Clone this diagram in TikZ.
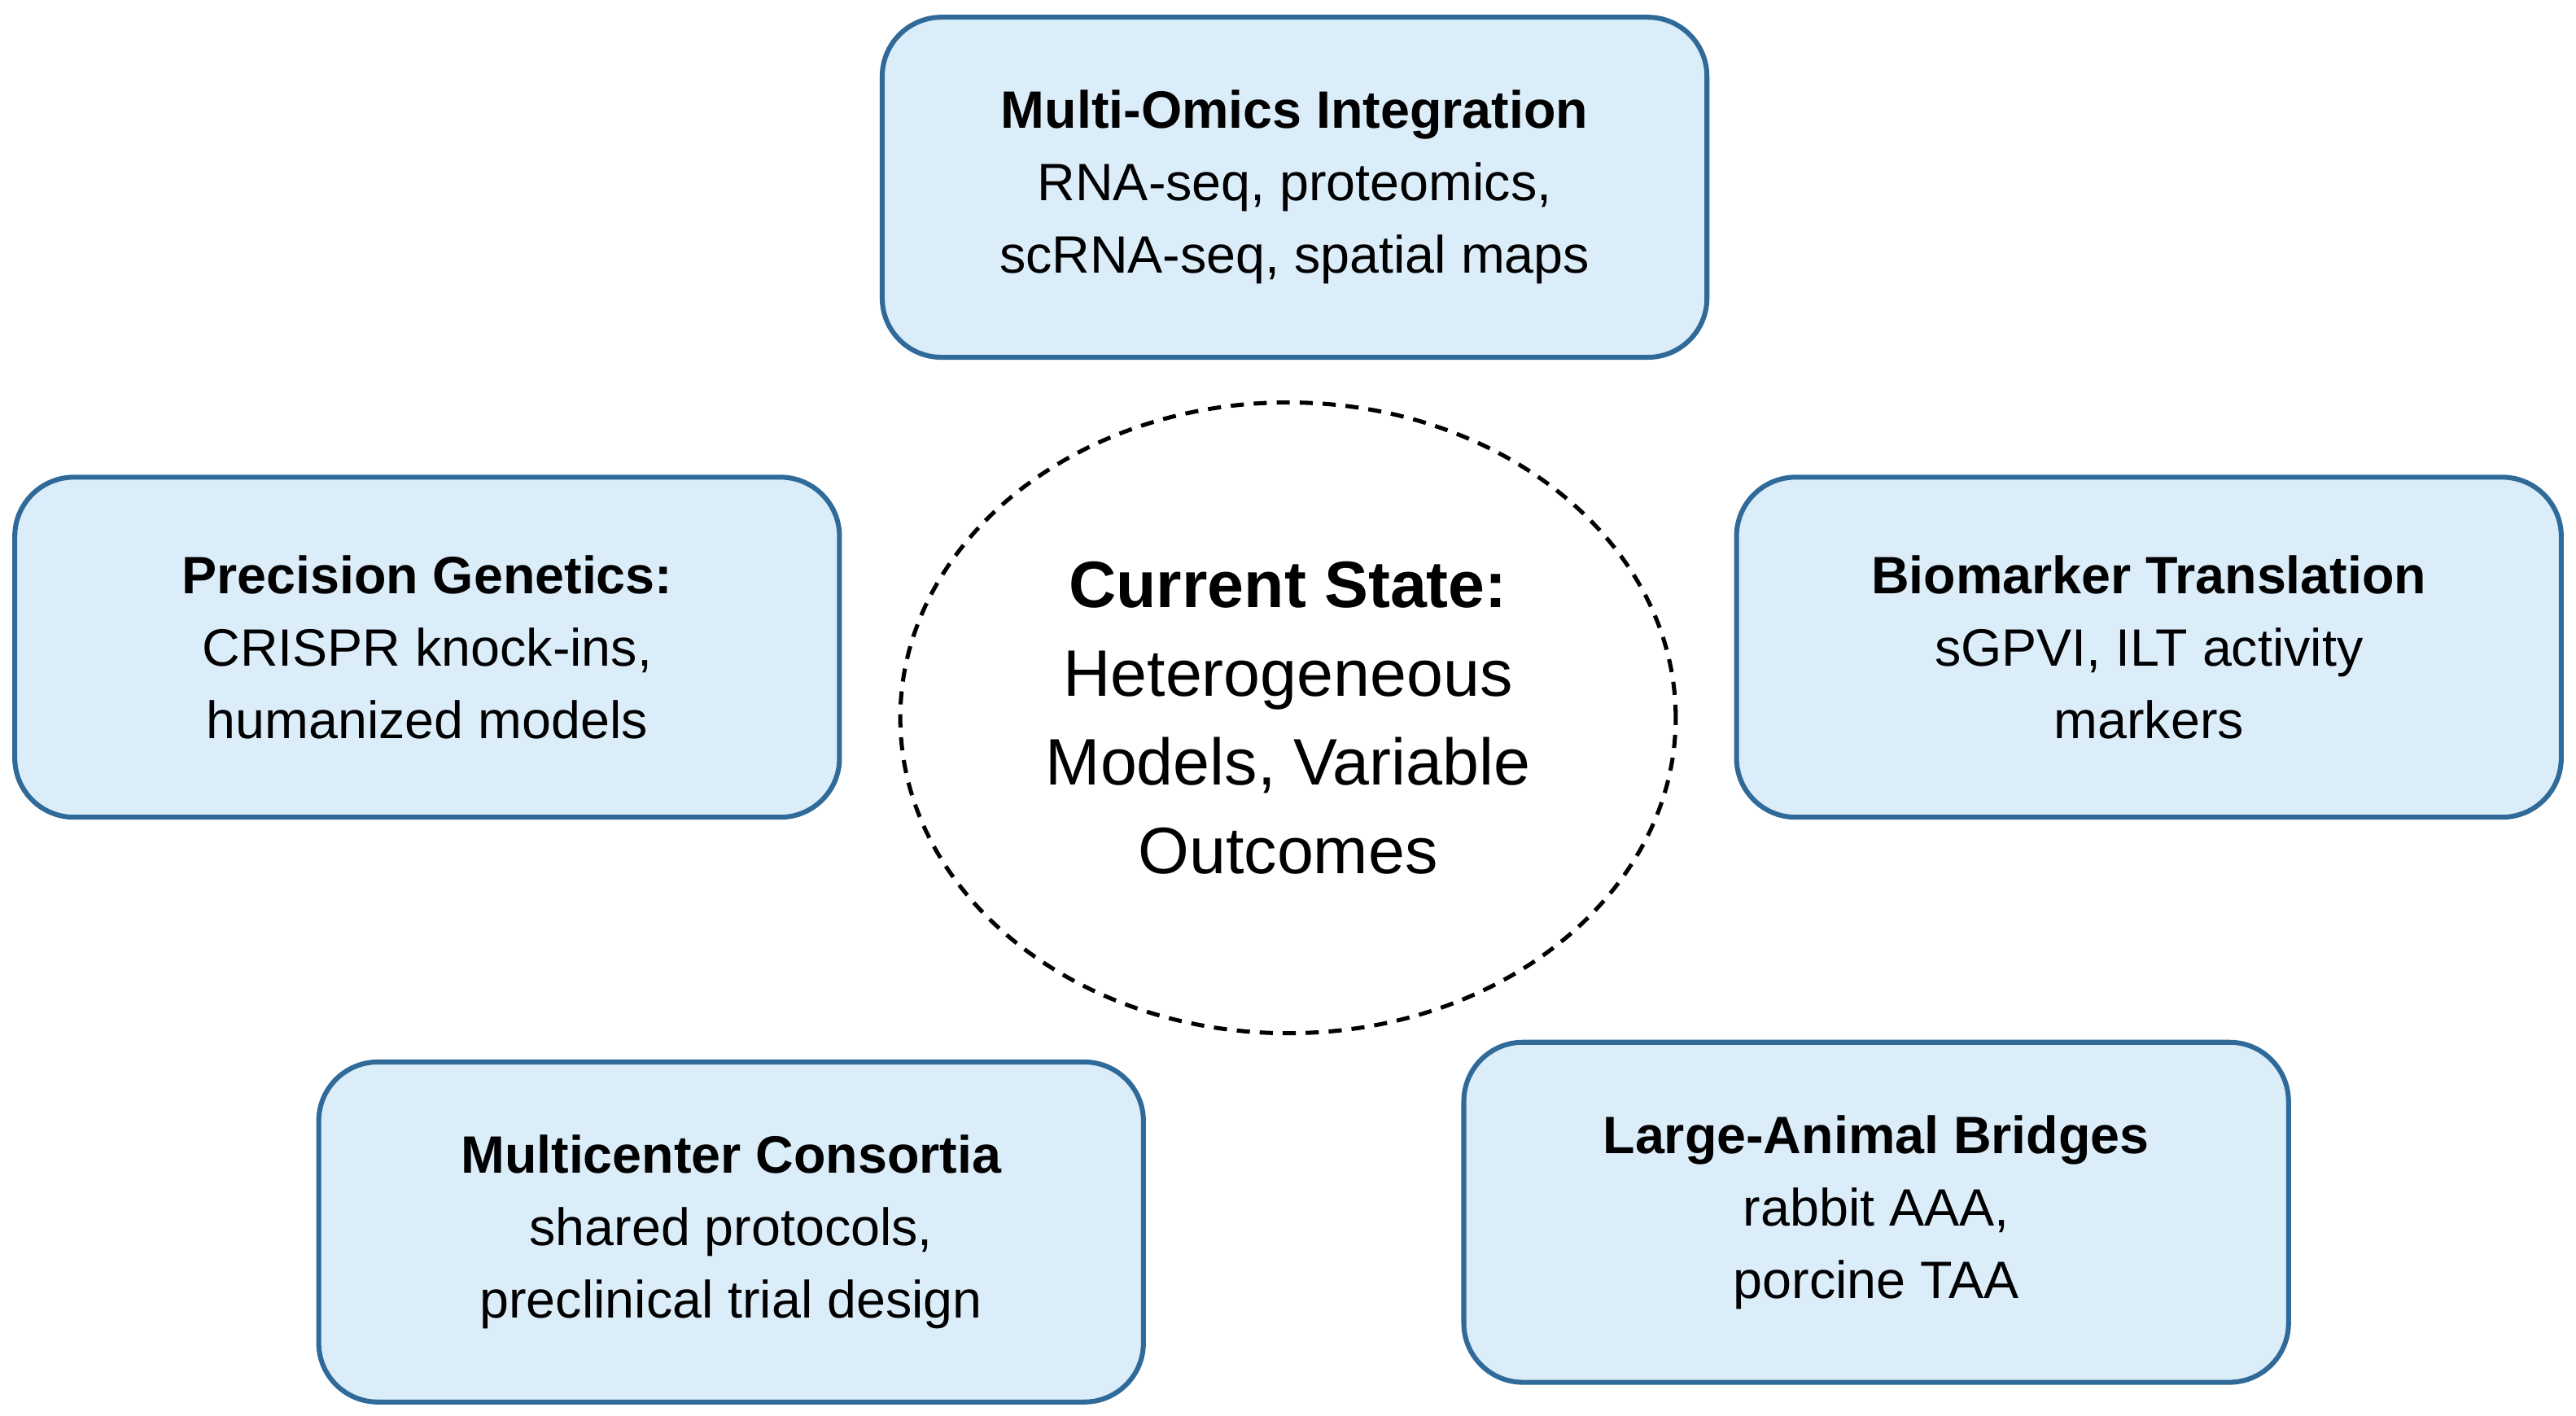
\documentclass[tikz,border=0pt]{standalone}
\usepackage{fontspec}
\usetikzlibrary{shapes.geometric}
\setmainfont{Liberation Sans}
\begin{document}
\begin{tikzpicture}[x=1pt,y=-1pt,
  box/.style={draw=boxline,line width=3pt,fill=boxfill,rounded corners=36pt,minimum width=502pt,minimum height=207pt,align=center,font=\fontsize{32}{44}\selectfont,inner sep=0pt}]
\definecolor{boxfill}{HTML}{DCEDFA}
\definecolor{boxline}{HTML}{2F6A99}
\useasboundingbox[fill=white] (0,0) rectangle (1568,862);
\node[box] (top) at (788,114) {{\bfseries Multi-Omics Integration}\\RNA-seq, proteomics,\\scRNA-seq, spatial maps};
\node[box] (left) at (260,394) {{\bfseries Precision Genetics:}\\CRISPR knock-ins,\\humanized models};
\node[box] (right) at (1308,394) {{\bfseries Biomarker Translation}\\sGPVI, ILT activity\\markers};
\node[box] (bl) at (445,750) {{\bfseries Multicenter Consortia}\\shared protocols,\\preclinical trial design};
\node[box] (br) at (1142,738) {{\bfseries Large-Animal Bridges}\\rabbit AAA,\\porcine TAA};
\node[draw,line width=2.5pt,dash pattern=on 8pt off 6pt,ellipse,minimum width=472pt,minimum height=384pt,align=center,font=\fontsize{40}{54}\selectfont,inner sep=0pt] (c) at (784,437) {{\bfseries Current State:}\\Heterogeneous\\Models, Variable\\Outcomes};
\end{tikzpicture}
\end{document}
